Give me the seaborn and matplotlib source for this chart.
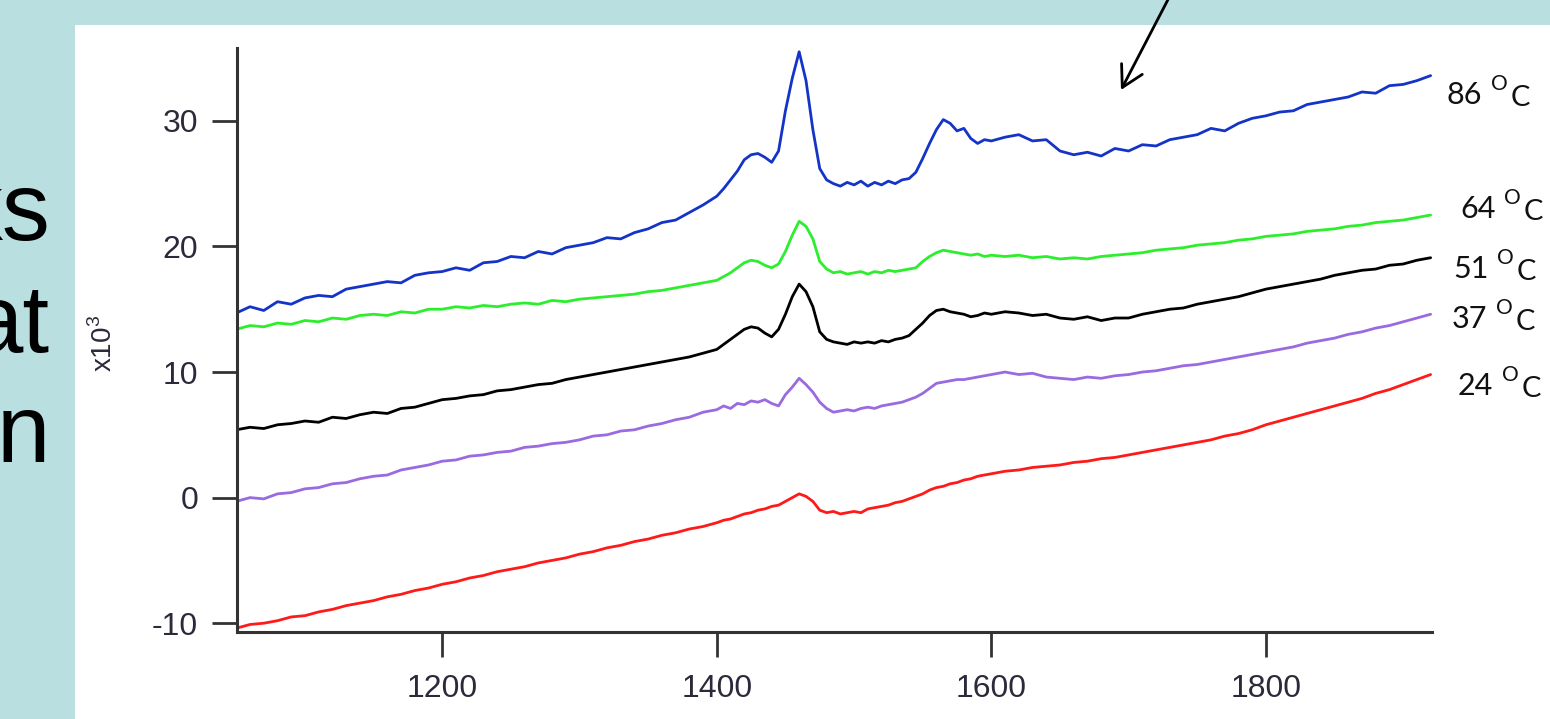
import numpy as np
import pandas as pd
import matplotlib
matplotlib.use("Agg")
import matplotlib.pyplot as plt
import seaborn as sns
from matplotlib.patches import Rectangle, FancyArrowPatch

# ---------------- data (intensity in units of 10^3) ----------------
wavenumber = np.concatenate([np.arange(1050, 1400, 10),
                             np.arange(1400, 1605, 5),
                             np.arange(1610, 1921, 10)])

temps = ["86", "64", "51", "37", "24"]

t86 = [14.7, 15.2, 14.9, 15.6, 15.4, 15.9, 16.1, 16.0, 16.6, 16.8, 17.0, 17.2, 17.1, 17.7, 17.9,
       18.0, 18.3, 18.1, 18.7, 18.8, 19.2, 19.1, 19.6, 19.4, 19.9, 20.1, 20.3, 20.7, 20.6, 21.1,
       21.4, 21.9, 22.1, 22.7, 23.3,
       24.0, 24.6, 25.3, 26.0, 26.9, 27.3, 27.4, 27.1, 26.7, 27.6, 30.8, 33.4, 35.5, 33.2, 29.3,
       26.2, 25.3, 25.0, 24.8, 25.1, 24.9, 25.2, 24.8, 25.1, 24.9, 25.2, 25.0, 25.3, 25.4, 25.9,
       27.0, 28.2, 29.3, 30.1, 29.8, 29.2, 29.4, 28.6, 28.2, 28.5, 28.4,
       28.7, 28.9, 28.4, 28.5, 27.6, 27.3, 27.5, 27.2, 27.8, 27.6, 28.1, 28.0, 28.5, 28.7, 28.9,
       29.4, 29.2, 29.8, 30.2, 30.4, 30.7, 30.8, 31.3, 31.5, 31.7, 31.9, 32.3, 32.2, 32.8, 32.9,
       33.2, 33.6]

t64 = [13.4, 13.7, 13.6, 13.9, 13.8, 14.1, 14.0, 14.3, 14.2, 14.5, 14.6, 14.5, 14.8, 14.7, 15.0,
       15.0, 15.2, 15.1, 15.3, 15.2, 15.4, 15.5, 15.4, 15.7, 15.6, 15.8, 15.9, 16.0, 16.1, 16.2,
       16.4, 16.5, 16.7, 16.9, 17.1,
       17.3, 17.6, 17.9, 18.3, 18.7, 18.9, 18.8, 18.5, 18.3, 18.6, 19.6, 20.9, 22.0, 21.6, 20.6,
       18.8, 18.2, 17.9, 18.0, 17.8, 17.9, 18.0, 17.8, 18.0, 17.9, 18.1, 18.0, 18.1, 18.2, 18.3,
       18.8, 19.2, 19.5, 19.7, 19.6, 19.5, 19.4, 19.3, 19.4, 19.2, 19.3,
       19.2, 19.3, 19.1, 19.2, 19.0, 19.1, 19.0, 19.2, 19.3, 19.4, 19.5, 19.7, 19.8, 19.9, 20.1,
       20.2, 20.3, 20.5, 20.6, 20.8, 20.9, 21.0, 21.2, 21.3, 21.4, 21.6, 21.7, 21.9, 22.0, 22.1,
       22.3, 22.5]

t51 = [5.4, 5.6, 5.5, 5.8, 5.9, 6.1, 6.0, 6.4, 6.3, 6.6, 6.8, 6.7, 7.1, 7.2, 7.5,
       7.8, 7.9, 8.1, 8.2, 8.5, 8.6, 8.8, 9.0, 9.1, 9.4, 9.6, 9.8, 10.0, 10.2, 10.4,
       10.6, 10.8, 11.0, 11.2, 11.5,
       11.8, 12.2, 12.6, 13.0, 13.4, 13.6, 13.5, 13.1, 12.8, 13.4, 14.6, 16.0, 17.0, 16.4, 15.2,
       13.2, 12.6, 12.4, 12.3, 12.2, 12.4, 12.3, 12.4, 12.3, 12.5, 12.4, 12.6, 12.7, 12.9, 13.4,
       13.9, 14.5, 14.9, 15.0, 14.8, 14.7, 14.6, 14.4, 14.5, 14.7, 14.6,
       14.8, 14.7, 14.5, 14.6, 14.3, 14.2, 14.4, 14.1, 14.3, 14.3, 14.6, 14.8, 15.0, 15.1, 15.4,
       15.6, 15.8, 16.0, 16.3, 16.6, 16.8, 17.0, 17.2, 17.4, 17.7, 17.9, 18.1, 18.2, 18.5, 18.6,
       18.9, 19.1]

t37 = [-0.3, 0.0, -0.1, 0.3, 0.4, 0.7, 0.8, 1.1, 1.2, 1.5, 1.7, 1.8, 2.2, 2.4, 2.6,
       2.9, 3.0, 3.3, 3.4, 3.6, 3.7, 4.0, 4.1, 4.3, 4.4, 4.6, 4.9, 5.0, 5.3, 5.4,
       5.7, 5.9, 6.2, 6.4, 6.8,
       7.0, 7.3, 7.1, 7.5, 7.4, 7.7, 7.6, 7.8, 7.5, 7.3, 8.2, 8.8, 9.5, 9.0, 8.4,
       7.6, 7.1, 6.8, 6.9, 7.0, 6.9, 7.1, 7.2, 7.1, 7.3, 7.4, 7.5, 7.6, 7.8, 8.0,
       8.3, 8.7, 9.1, 9.2, 9.3, 9.4, 9.4, 9.5, 9.6, 9.7, 9.8,
       10.0, 9.8, 9.9, 9.6, 9.5, 9.4, 9.6, 9.5, 9.7, 9.8, 10.0, 10.1, 10.3, 10.5, 10.6,
       10.8, 11.0, 11.2, 11.4, 11.6, 11.8, 12.0, 12.3, 12.5, 12.7, 13.0, 13.2, 13.5, 13.7, 14.0,
       14.3, 14.6]

t24 = [-10.4, -10.1, -10.0, -9.8, -9.5, -9.4, -9.1, -8.9, -8.6, -8.4, -8.2, -7.9, -7.7, -7.4, -7.2,
       -6.9, -6.7, -6.4, -6.2, -5.9, -5.7, -5.5, -5.2, -5.0, -4.8, -4.5, -4.3, -4.0, -3.8, -3.5,
       -3.3, -3.0, -2.8, -2.5, -2.3,
       -2.0, -1.8, -1.7, -1.5, -1.3, -1.2, -1.0, -0.9, -0.7, -0.6, -0.3, 0.0, 0.3, 0.1, -0.3,
       -1.0, -1.2, -1.1, -1.3, -1.2, -1.1, -1.2, -0.9, -0.8, -0.7, -0.6, -0.4, -0.3, -0.1, 0.1,
       0.3, 0.6, 0.8, 0.9, 1.1, 1.2, 1.4, 1.5, 1.7, 1.8, 1.9,
       2.1, 2.2, 2.4, 2.5, 2.6, 2.8, 2.9, 3.1, 3.2, 3.4, 3.6, 3.8, 4.0, 4.2, 4.4,
       4.6, 4.9, 5.1, 5.4, 5.8, 6.1, 6.4, 6.7, 7.0, 7.3, 7.6, 7.9, 8.3, 8.6, 9.0,
       9.4, 9.8]

series = [t86, t64, t51, t37, t24]
colors = ["#1434c8", "#2cee2c", "#000000", "#9a6ae0", "#ff1a1a"]

x_ticks = [1200, 1400, 1600, 1800]
y_ticks = [-10, 0, 10, 20, 30]
left_words = ["ks", "at", "n"]

# ---------------- long-form table ----------------
df = pd.concat([pd.DataFrame({"wavenumber": wavenumber, "intensity": s, "temp": t})
                for s, t in zip(series, temps)], ignore_index=True)

# ---------------- figure ----------------
sns.set_style("ticks")
plt.rcParams["font.family"] = ["Liberation Sans", "DejaVu Sans"]
plt.rcParams["mathtext.fontset"] = "custom"
plt.rcParams["mathtext.rm"] = "Liberation Sans"
plt.rcParams["axes.unicode_minus"] = False

W, H = 1550, 719
fig = plt.figure(figsize=(W / 100, H / 100), dpi=100, facecolor="#b9dfe0")
fig.add_artist(Rectangle((75 / W, 0), 1 - 75 / W, 1 - 25 / H, transform=fig.transFigure,
                         facecolor="white", edgecolor="none", zorder=-5))

ax = fig.add_axes([237 / W, 1 - 632 / H, (1432 - 237) / W, (632 - 48) / H])
ax.set_facecolor("none")

sns.lineplot(data=df, x="wavenumber", y="intensity", hue="temp", hue_order=temps,
             palette=dict(zip(temps, colors)), linewidth=2.0, legend=False, ax=ax,
             estimator=None)

ax.set_xlim(1050.5, 1921)
ax.set_ylim(-10.7, 35.8)
ax.set_xticks(x_ticks)
ax.set_yticks(y_ticks)
ax.set_xlabel("")
ax.set_ylabel("")
for side in ["top", "right"]:
    ax.spines[side].set_visible(False)
for side in ["left", "bottom"]:
    ax.spines[side].set_linewidth(2.2)
    ax.spines[side].set_color("#333333")
ax.tick_params(axis="both", direction="out", length=18, width=2, color="#333333",
               labelsize=23, labelcolor="#2a2a3a")
ax.tick_params(axis="x", pad=12)
ax.tick_params(axis="y", pad=10)

# y-axis unit label
fig.text(104 / W, 1 - 343 / H, r"x10$^{3}$", rotation=90, ha="center", va="center",
         fontsize=20, color="#2a2a3a")

# temperature labels
def px(x, y):
    return x / W, 1 - y / H

label_pos = {"86": (1447, 104), "64": (1460, 218), "51": (1453, 278),
             "37": (1452, 328), "24": (1458, 395)}
for t in temps:
    x0, yb = label_pos[t]
    fig.text(*px(x0, yb), t, fontsize=22, family=["Lato", "DejaVu Sans"],
             ha="left", va="baseline", color="#111111")
    fig.text(*px(x0 + 44, yb - 14), "O", fontsize=15, family=["Lato", "DejaVu Sans"],
             ha="left", va="baseline", color="#111111")
    fig.text(*px(x0 + 64, yb + 2), "C", fontsize=21, family=["Lato", "DejaVu Sans"],
             ha="left", va="baseline", color="#111111")

# big slide text fragments on the left (cut off by the slide edge)
for word, yb in zip(left_words, [240, 352, 462]):
    fig.text(*px(50, yb), word, fontsize=69, ha="right", va="baseline", color="black")

# arrow from the slide above
arr = FancyArrowPatch(px(1174, -12), px(1121, 90), transform=fig.transFigure,
                      arrowstyle="->,head_length=0.5,head_width=0.28", mutation_scale=30,
                      lw=2, color="black", shrinkA=0, shrinkB=0)
fig.add_artist(arr)

fig.savefig("out.png", dpi=100, facecolor=fig.get_facecolor())
